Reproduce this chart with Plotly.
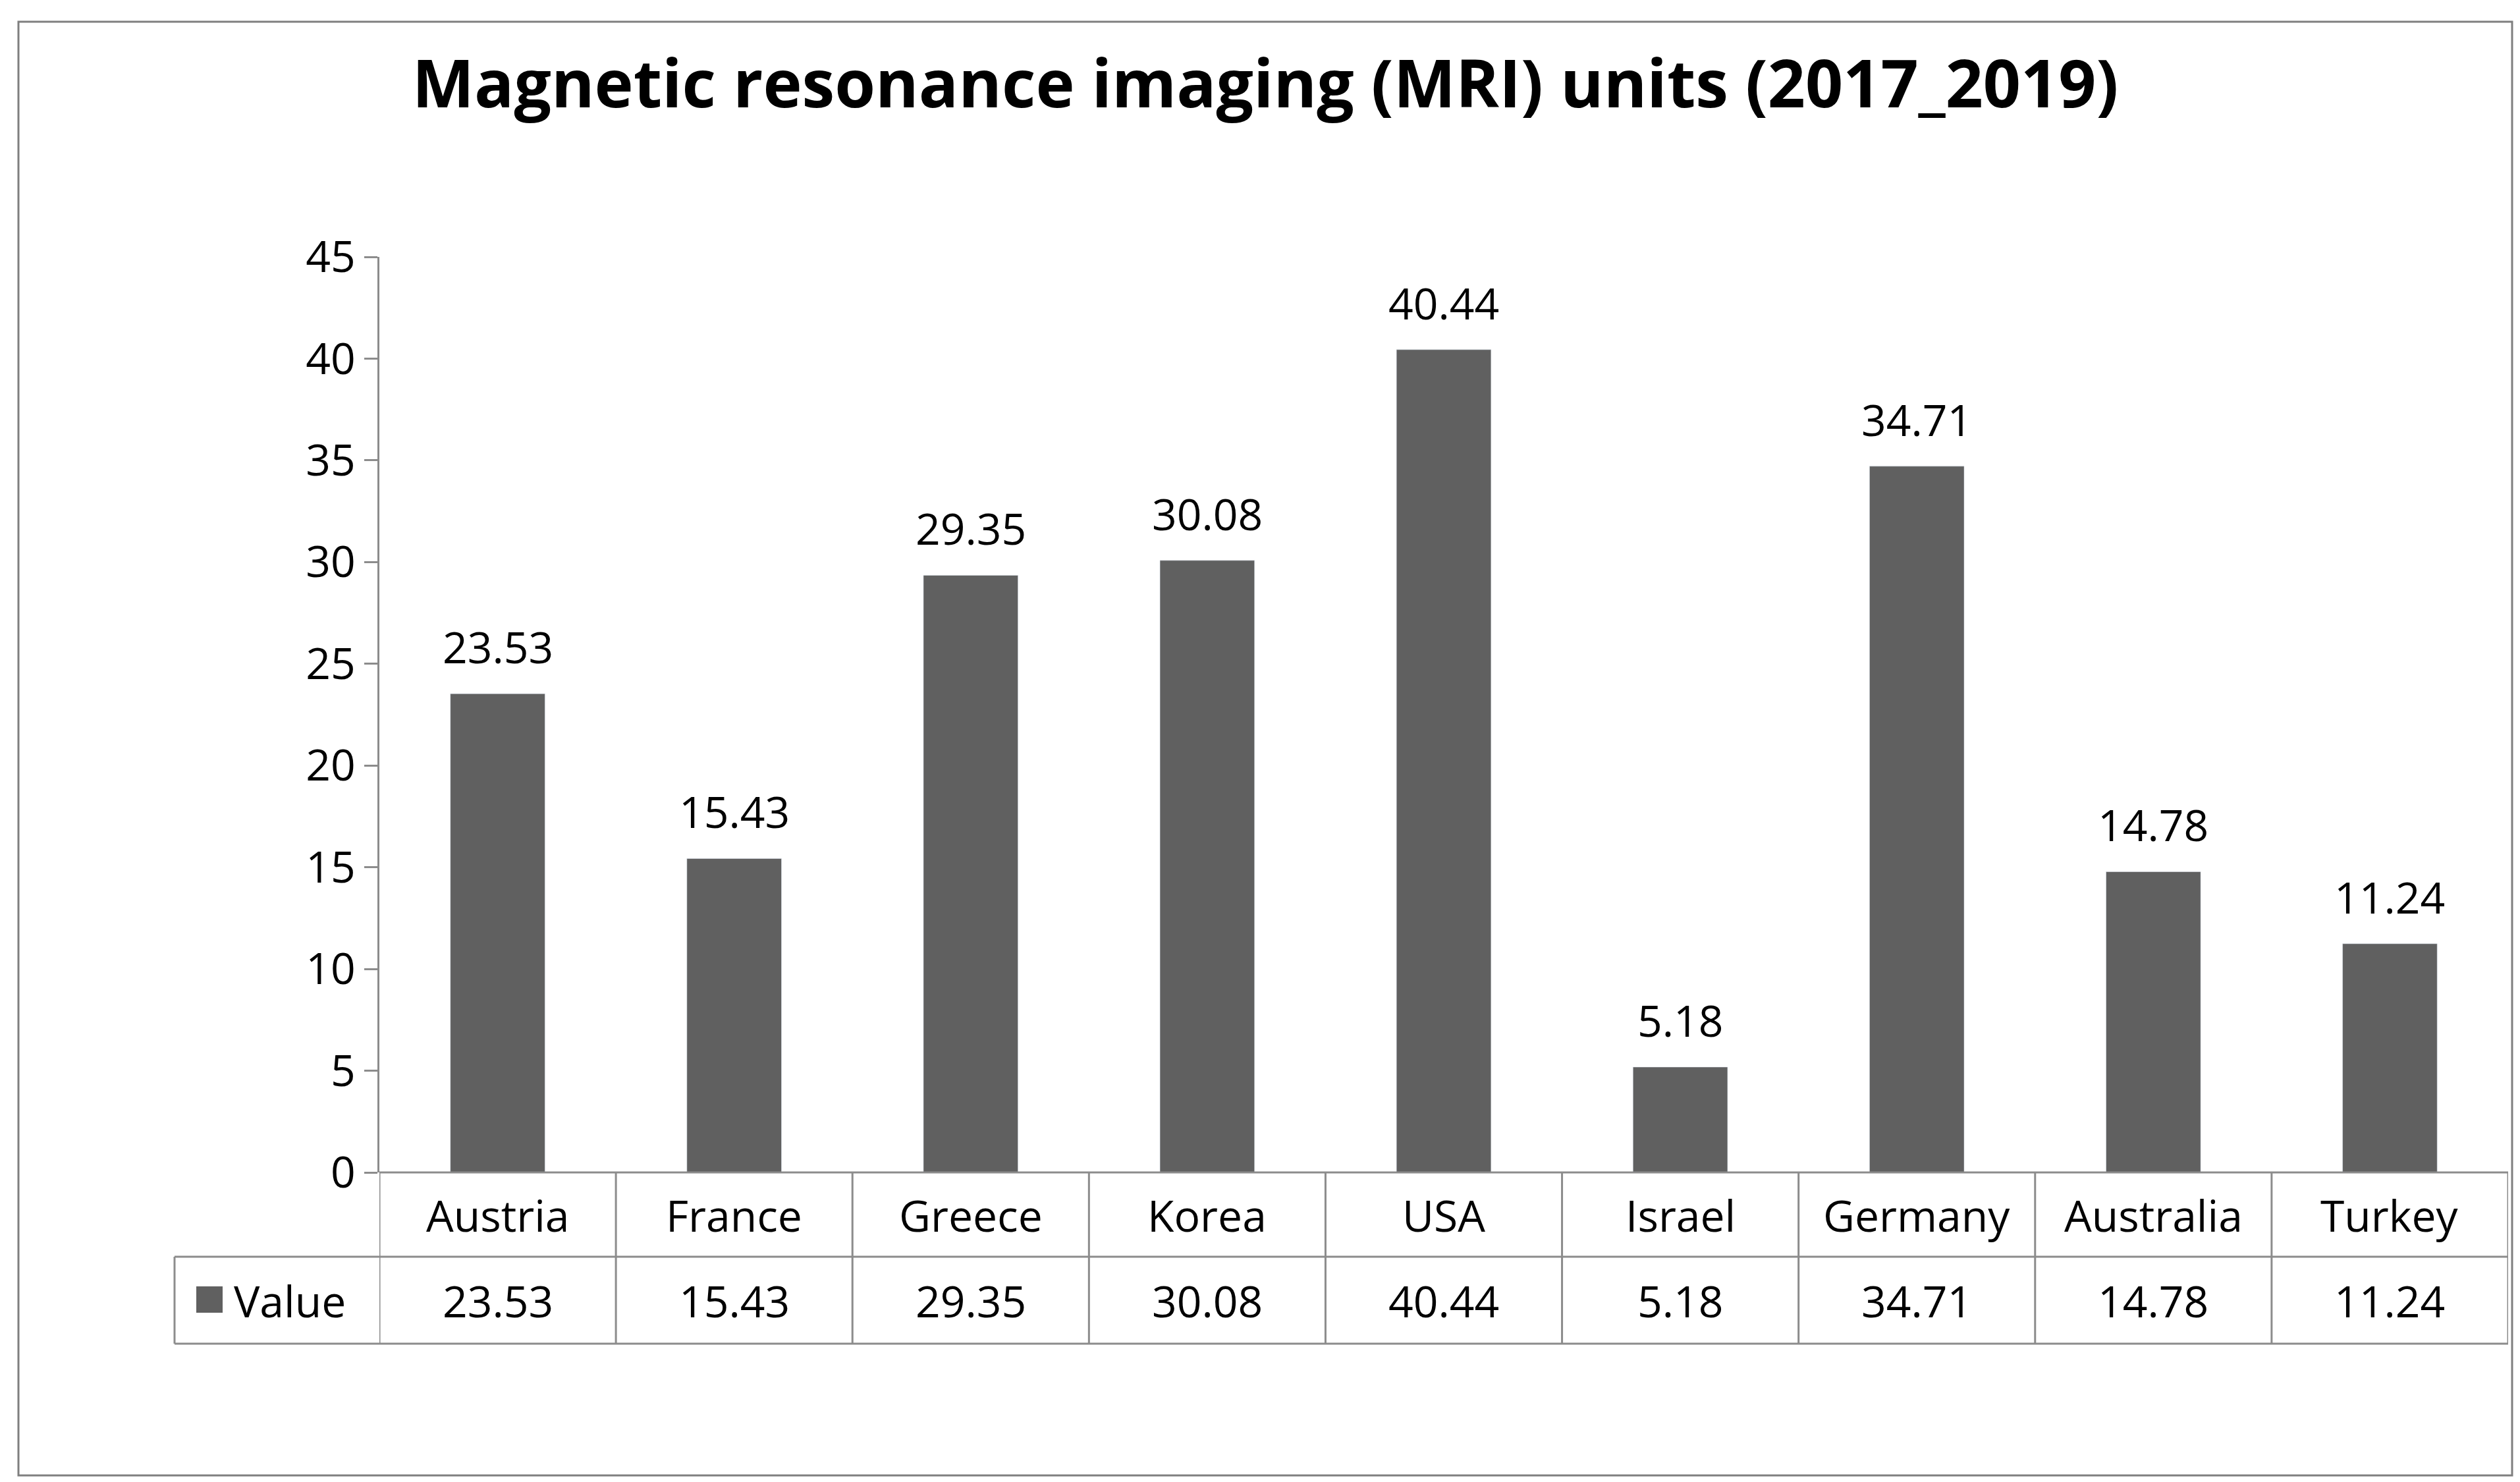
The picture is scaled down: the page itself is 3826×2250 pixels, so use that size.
import plotly.graph_objects as go

countries = ['Austria', 'France', 'Greece', 'Korea', 'USA', 'Israel', 'Germany', 'Australia', 'Turkey']
values = [23.53, 15.43, 29.35, 30.08, 40.44, 5.18, 34.71, 14.78, 11.24]
yticks = [0, 5, 10, 15, 20, 25, 30, 35, 40, 45]

W, H = 3826, 2250
L, R, T, B = 568, 3800, 382, 1772   # plot area in pixels
FONT = 'Open Sans'
LINE = '#8c8c8c'
FS = 66

def px(x):
    return (x - L) / (R - L)

def py(y):
    return (B - y) / (B - T)

fig = go.Figure()
fig.add_trace(go.Bar(x=list(range(len(countries))), y=values, marker_color='#606060'))

shapes = []
row1, row2 = py(1900), py(2032)
tleft = px(257)
# table lines
shapes.append(dict(type='line', xref='paper', yref='paper', x0=tleft, x1=1, y0=row1, y1=row1, line=dict(color=LINE, width=3)))
shapes.append(dict(type='line', xref='paper', yref='paper', x0=tleft, x1=1, y0=row2, y1=row2, line=dict(color=LINE, width=3)))
shapes.append(dict(type='line', xref='paper', yref='paper', x0=tleft, x1=tleft, y0=row1, y1=row2, line=dict(color=LINE, width=3)))
shapes.append(dict(type='line', xref='paper', yref='paper', x0=0, x1=1, y0=0, y1=0, line=dict(color=LINE, width=3)))
for i in range(len(countries) + 1):
    shapes.append(dict(type='line', xref='x', yref='paper', x0=i - 0.5, x1=i - 0.5, y0=0, y1=row2, line=dict(color=LINE, width=3)))
# legend swatch
shapes.append(dict(type='rect', xref='paper', yref='paper', x0=px(290), x1=px(330), y0=py(1985), y1=py(1945),
                   fillcolor='#606060', line=dict(width=0)))
# outer border
shapes.append(dict(type='rect', xref='paper', yref='paper', x0=px(20), x1=px(3806), y0=py(25), y1=py(2232),
                   line=dict(color='#7f7f7f', width=3)))

ann = []
for i, (c, v) in enumerate(zip(countries, values)):
    ann.append(dict(x=i, y=v, xref='x', yref='y', text=f"{v:.2f}", showarrow=False, yanchor='bottom', yshift=25,
                    font=dict(size=FS, color='black', family=FONT)))
    ann.append(dict(x=i, y=(0 + row1) / 2, xref='x', yref='paper', text=c, showarrow=False, yanchor='middle',
                    font=dict(size=FS, color='black', family=FONT)))
    ann.append(dict(x=i, y=(row1 + row2) / 2, xref='x', yref='paper', text=f"{v:.2f}", showarrow=False,
                    yanchor='middle', font=dict(size=FS, color='black', family=FONT)))
ann.append(dict(x=px(345), y=(row1 + row2) / 2, xref='paper', yref='paper', text='Value', showarrow=False,
                xanchor='left', yanchor='middle', font=dict(size=FS, color='black', family=FONT)))

fig.update_layout(
    width=W, height=H,
    margin=dict(l=L, r=W - R, t=T, b=H - B),
    plot_bgcolor='white', paper_bgcolor='white',
    font=dict(family=FONT, color='black'),
    title=dict(text='<b>Magnetic resonance imaging (MRI) units (2017_2019)</b>', x=0.5, xanchor='center',
               y=1 - 120 / H, yanchor='middle', font=dict(size=100, family=FONT)),
    bargap=0.6, showlegend=False,
    shapes=shapes, annotations=ann,
    xaxis=dict(range=[-0.5, len(countries) - 0.5], showticklabels=False, showgrid=False, zeroline=False,
               showline=False, ticks=''),
    yaxis=dict(range=[0, 45], tickvals=yticks, showgrid=False, zeroline=False, showline=True,
               linecolor=LINE, linewidth=3, ticks='outside', ticklen=20, tickcolor=LINE, tickwidth=3,
               tickfont=dict(size=FS, color='black')),
)
fig.write_html("out.html")
